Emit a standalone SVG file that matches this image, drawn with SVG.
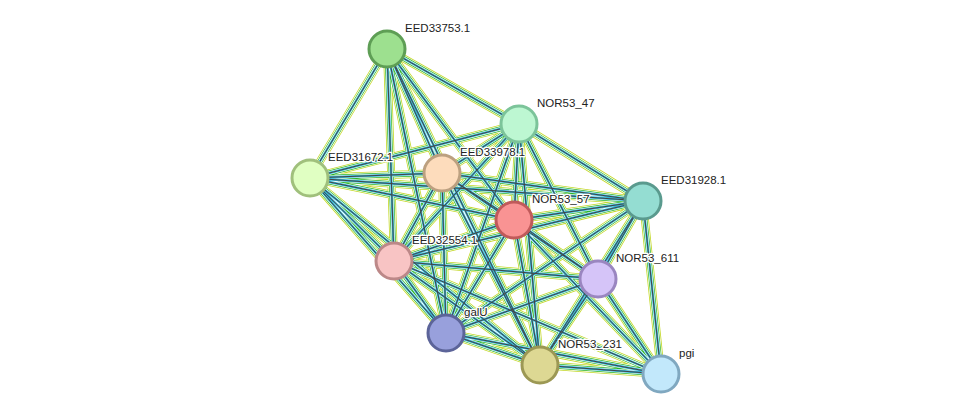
<svg xmlns="http://www.w3.org/2000/svg" width="976" height="420" viewBox="0 0 976 420">
<style>
.e1{stroke:#c4d82a;stroke-width:8}
.e2{stroke:#fff;stroke-width:6.4}
.e3{stroke:#2bb52b;stroke-width:5}
.e4{stroke:#fff;stroke-width:3.6}
.e5{stroke:#35b5d5;stroke-width:2.4}
.e6{stroke:#444;stroke-width:1}
.n{stroke-width:3}
text{font-family:"Liberation Sans",Arial,sans-serif;font-size:11.5px;fill:#222;stroke:#fff;stroke-width:2.5px;paint-order:stroke;stroke-linejoin:round}
</style>
<defs>
<g id="E">
<path id="P" fill="none" d="M387,49L310,178M387,49L442,173M387,49L394,261M387,49L514,220M387,49L519,124M387,49L446,333M387,49L540,365
M519,124L310,178M519,124L442,173M519,124L514,220M519,124L643,201M519,124L394,261M519,124L446,333M519,124L598,279M519,124L540,365
M310,178L442,173M310,178L514,220M310,178L643,201M310,178L394,261M310,178L446,333M310,178L540,365
M442,173L514,220M442,173L643,201M442,173L394,261M442,173L446,333M442,173L540,365M442,173L598,279
M514,220L643,201M514,220L394,261M514,220L598,279M514,220L446,333M514,220L540,365M514,220L661,374
M643,201L394,261M643,201L598,279M643,201L446,333M643,201L540,365M643,201L661,374
M394,261L598,279M394,261L446,333M394,261L540,365M394,261L661,374
M598,279L446,333M598,279L540,365M598,279L661,374
M446,333L540,365M446,333L661,374M540,365L661,374"/>
</g>
</defs>
<rect width="976" height="420" fill="#fff"/>
<g id="connectors">
<use href="#P" class="e1"/><use href="#P" class="e2"/><use href="#P" class="e3"/><use href="#P" class="e4"/><use href="#P" class="e5"/><use href="#P" class="e6"/>
</g>
<g id="EED33753.1"><circle class="n" cx="387" cy="49" r="18" fill="#9de08f" stroke="#5e9e55"/><text x="405" y="32">EED33753.1</text></g>
<g id="NOR53_47"><circle class="n" cx="519" cy="124" r="18" fill="#bdf7d2" stroke="#7cc49a"/><text x="537" y="107">NOR53_47</text></g>
<g id="EED31672.1"><circle class="n" cx="310" cy="178" r="18" fill="#e0ffc2" stroke="#a0c07c"/><text x="328" y="161">EED31672.1</text></g>
<g id="EED33978.1"><circle class="n" cx="442" cy="173" r="18" fill="#fddcbc" stroke="#bca080"/><text x="460" y="156">EED33978.1</text></g>
<g id="NOR53_57"><circle class="n" cx="514" cy="220" r="18" fill="#f99393" stroke="#c05a5a"/><text x="532" y="203">NOR53_57</text></g>
<g id="EED31928.1"><circle class="n" cx="643" cy="201" r="18" fill="#94ddd2" stroke="#5a9a8e"/><text x="661" y="184">EED31928.1</text></g>
<g id="EED32554.1"><circle class="n" cx="394" cy="261" r="18" fill="#f8c4c4" stroke="#bc8888"/><text x="412" y="244">EED32554.1</text></g>
<g id="NOR53_611"><circle class="n" cx="598" cy="279" r="18" fill="#d5c4f8" stroke="#9a86c0"/><text x="616" y="262">NOR53_611</text></g>
<g id="galU"><circle class="n" cx="446" cy="333" r="18" fill="#98a0dc" stroke="#5c6499"/><text x="464" y="316">galU</text></g>
<g id="NOR53_231"><circle class="n" cx="540" cy="365" r="18" fill="#ddd893" stroke="#9c9854"/><text x="558" y="348">NOR53_231</text></g>
<g id="pgi"><circle class="n" cx="661" cy="374" r="18" fill="#c2e8fb" stroke="#80a8c0"/><text x="679" y="357">pgi</text></g>
</svg>
